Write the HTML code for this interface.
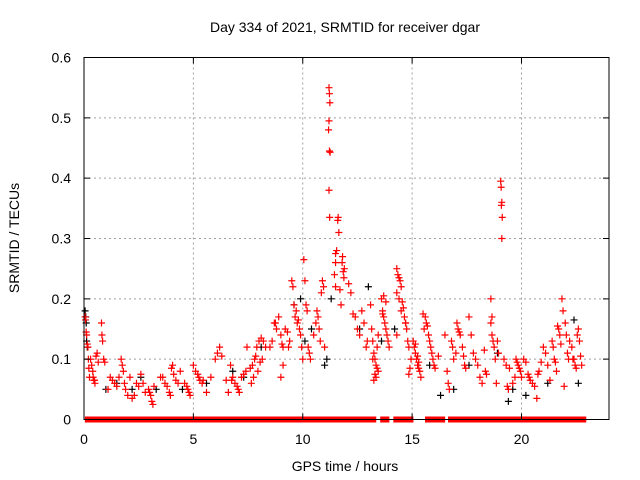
<!DOCTYPE html>
<html><head><meta charset="utf-8"><style>
html,body{margin:0;padding:0;background:#fff;}
svg{display:block;font-family:"Liberation Sans",sans-serif;}
</style></head><body>
<svg id="chart" width="640" height="480" viewBox="0 0 640 480">
<text x="345" y="32" font-size="14" text-anchor="middle">Day 334 of 2021, SRMTID for receiver dgar</text>
<text x="345" y="471" font-size="14" text-anchor="middle">GPS time / hours</text>
<text x="19" y="238" font-size="14" text-anchor="middle" transform="rotate(-90 19 238)">SRMTID / TECUs</text>
<g id="grid"></g>
<g id="black"></g>
<g id="red"></g>
<g id="axes"></g>
</svg>
<script>
const xTicks=[0,5,10,15,20];
const yTicks=[0,0.1,0.2,0.3,0.4,0.5,0.6];
const yTickLabels=["0","0.1","0.2","0.3","0.4","0.5","0.6"];
const redT=[0.05,0.07,0.1,0.12,0.15,0.18,0.2,0.22,0.25,0.3,0.35,0.4,0.42,0.45,0.48,0.5,0.55,0.6,0.65,0.8,0.82,0.85,0.9,0.95,
1.1,1.2,1.3,1.4,1.5,1.6,1.7,1.75,1.8,1.85,1.9,2.0,
2.1,2.2,2.3,2.4,2.5,2.6,2.7,2.8,2.95,3.0,3.05,3.1,3.15,3.2,
3.5,3.6,3.7,3.8,3.9,3.95,4.0,4.05,4.1,4.2,4.3,4.4,
4.6,4.7,4.75,4.8,4.85,5.0,5.1,5.2,5.25,5.3,5.4,5.45,
5.6,5.8,6.0,6.1,6.2,6.3,
6.5,6.6,6.7,6.75,6.8,6.9,7.0,7.05,7.1,7.2,7.3,7.4,7.45,
7.6,7.7,7.8,7.85,7.9,8.0,8.1,8.2,7.65,7.75,7.95,8.05,8.15,8.3,
8.5,8.6,8.7,8.75,8.8,8.9,9.0,9.05,9.1,9.2,9.3,9.4,9.0,9.1,9.35,
9.5,9.55,9.6,9.65,9.7,9.75,9.8,9.85,9.9,9.95,10.0,10.05,10.1,10.15,10.2,10.25,10.3,10.35,
10.5,10.6,10.65,10.7,10.75,10.8,10.85,10.9,10.95,11.0,
11.2,11.22,11.24,11.2,11.18,11.22,11.25,11.2,11.23,11.5,11.45,11.5,
11.6,11.62,11.65,11.5,11.55,11.8,11.85,11.9,11.82,11.88,11.7,11.75,
12.1,12.2,12.3,12.4,12.5,12.6,12.7,12.8,12.9,12.95,
13.1,13.15,13.2,13.25,13.3,13.35,13.4,13.45,13.3,13.35,13.25,13.2,13.4,13.45,
13.6,13.65,13.7,13.75,13.8,13.85,13.9,13.95,13.65,13.7,13.8,
14.3,14.35,14.4,14.45,14.5,14.3,14.4,14.55,14.6,14.65,14.7,14.75,14.8,14.85,14.3,14.5,14.7,14.9,14.95,14.85,
15.1,15.15,15.2,15.25,15.3,15.35,15.4,15.05,15.15,15.25,15.3,
15.6,15.65,15.7,15.75,15.8,15.85,15.9,15.95,16.0,16.05,15.5,15.55,16.2,
16.5,16.6,16.65,16.7,16.8,16.85,16.9,17.0,17.05,17.1,17.15,17.2,17.3,17.35,17.4,17.45,
17.6,17.7,17.8,17.9,18.0,18.1,18.2,18.3,18.35,18.4,
18.6,18.65,18.7,18.75,18.8,18.85,18.65,18.6,18.9,18.95,
19.05,19.07,19.1,19.08,19.12,19.1,
19.2,19.3,19.35,19.4,19.45,19.6,19.7,19.75,19.8,19.85,19.9,19.95,20.0,
20.1,20.2,20.3,20.35,20.4,20.5,20.6,20.7,20.75,20.8,20.9,21.0,21.1,21.2,21.3,
21.4,21.45,21.5,21.55,21.6,21.65,21.7,21.75,21.8,21.85,21.9,22.0,22.05,22.1,22.15,21.95,
22.2,22.3,22.4,22.45,22.5,22.55,22.6,22.65,22.7,22.35,22.75];
const redV=[0.17,0.165,0.145,0.14,0.125,0.12,0.1,0.085,0.07,0.1,0.09,0.08,0.07,0.065,0.065,0.06,0.105,0.11,0.095,0.16,0.14,0.13,0.1,0.095,
0.05,0.07,0.065,0.06,0.055,0.07,0.1,0.09,0.08,0.06,0.05,0.04,
0.07,0.035,0.04,0.06,0.055,0.075,0.06,0.045,0.05,0.045,0.04,0.03,0.025,0.055,
0.07,0.07,0.06,0.055,0.045,0.04,0.085,0.09,0.075,0.065,0.06,0.08,
0.06,0.055,0.05,0.045,0.04,0.09,0.08,0.075,0.07,0.065,0.06,0.065,
0.045,0.07,0.1,0.11,0.12,0.105,
0.065,0.045,0.09,0.065,0.07,0.06,0.055,0.05,0.045,0.07,0.075,0.08,0.12,
0.085,0.09,0.1,0.105,0.12,0.13,0.135,0.13,0.06,0.07,0.08,0.095,0.1,0.12,
0.12,0.13,0.16,0.16,0.15,0.17,0.14,0.125,0.12,0.15,0.145,0.13,0.07,0.09,0.12,
0.23,0.22,0.19,0.17,0.18,0.16,0.165,0.15,0.14,0.12,0.1,0.265,0.23,0.19,0.18,0.12,0.11,0.1,
0.14,0.16,0.18,0.17,0.15,0.13,0.21,0.23,0.22,0.12,
0.55,0.54,0.525,0.495,0.48,0.445,0.443,0.38,0.335,0.26,0.24,0.22,
0.33,0.335,0.31,0.275,0.28,0.26,0.245,0.25,0.27,0.235,0.215,0.19,
0.225,0.21,0.175,0.17,0.15,0.14,0.18,0.16,0.12,0.13,
0.19,0.15,0.13,0.11,0.1,0.09,0.085,0.08,0.075,0.07,0.065,0.1,0.12,0.14,
0.2,0.18,0.17,0.16,0.15,0.14,0.13,0.12,0.175,0.205,0.195,
0.25,0.24,0.235,0.23,0.22,0.21,0.2,0.195,0.185,0.17,0.16,0.15,0.13,0.12,0.14,0.18,0.16,0.085,0.1,0.075,
0.12,0.11,0.1,0.09,0.085,0.08,0.07,0.13,0.125,0.105,0.095,
0.17,0.16,0.155,0.14,0.13,0.12,0.11,0.1,0.09,0.085,0.175,0.15,0.105,
0.14,0.08,0.06,0.05,0.13,0.12,0.1,0.11,0.16,0.15,0.145,0.14,0.12,0.105,0.09,0.085,
0.17,0.14,0.11,0.1,0.09,0.07,0.06,0.115,0.08,0.075,
0.2,0.17,0.13,0.12,0.1,0.06,0.14,0.16,0.13,0.11,
0.395,0.385,0.36,0.355,0.335,0.3,
0.1,0.09,0.055,0.05,0.085,0.06,0.07,0.1,0.095,0.09,0.085,0.08,0.07,
0.1,0.095,0.075,0.07,0.065,0.06,0.055,0.035,0.075,0.08,0.095,0.12,0.11,0.09,0.065,
0.13,0.12,0.1,0.095,0.08,0.155,0.15,0.14,0.125,0.2,0.18,0.16,0.14,0.11,0.1,0.055,
0.13,0.12,0.1,0.09,0.085,0.14,0.15,0.13,0.105,0.1,0.09];
const blackT=[0.05,0.08,0.1,0.12,0.15,1.0,1.5,2.2,2.6,3.3,4.5,5.6,6.8,7.3,8.1,9.6,9.9,10.1,10.4,11.0,11.1,11.3,12.6,13.0,13.6,14.2,15.8,16.3,16.9,17.6,18.9,19.4,19.6,20.2,21.2,22.4,22.6];
const blackV=[0.18,0.17,0.16,0.13,0.12,0.05,0.06,0.05,0.07,0.05,0.05,0.06,0.08,0.07,0.12,0.19,0.2,0.13,0.15,0.09,0.1,0.2,0.15,0.22,0.13,0.15,0.09,0.04,0.05,0.09,0.11,0.03,0.05,0.04,0.06,0.165,0.06];
const zeroT=[0.2,0.3,0.55,0.65,0.75,0.85,0.95,1.05,1.15,1.25,1.35,1.45,1.55,1.65,1.7,1.9,2.0,2.1,2.2,2.3,2.4,2.5,2.6,2.7,2.8,2.9,3.05,3.15,3.25,3.35,3.45,3.65,3.75,3.85,3.95,4.05,4.15,4.25,4.35,4.45,4.55,4.65,4.75,4.85,4.95,5.05,5.15,5.25,5.5,5.6,5.7,5.8,5.9,6.0,6.1,6.2,6.3,6.45,6.55,6.65,6.75,6.85,6.95,7.05,7.15,7.25,7.35,7.45,7.55,7.65,7.75,7.9,8.0,8.1,8.2,8.3,8.4,8.5,8.6,8.7,8.8,8.9,9.0,9.1,9.2,9.35,9.45,9.55,9.65,9.75,9.85,9.95,10.05,10.15,10.35,10.45,10.55,10.65,10.75,10.9,11.0,11.1,11.2,11.3,11.4,11.5,11.6,11.7,11.8,11.9,12.0,12.1,12.2,12.3,12.4,12.5,12.6,12.7,12.8,12.9,13.0,13.1,13.2,13.7,13.8,14.3,14.4,14.5,14.8,14.9,15.75,15.85,16.05,16.15,16.25,16.35,16.8,16.9,17.0,17.1,17.2,17.3,17.4,17.5,17.6,17.7,17.8,17.9,18.0,18.1,18.2,18.3,18.4,18.5,18.6,18.7,18.8,18.9,19.0,19.1,19.2,19.3,19.4,19.5,19.6,19.7,19.8,19.9,20.0,20.1,20.2,20.3,20.4,20.6,20.7,20.8,20.9,21.0,21.1,21.2,21.3,21.4,21.5,21.6,21.7,21.8,21.9,22.0,22.1,22.2,22.3,22.4,22.5,22.6,22.7,22.8];
const X0=84,X1=609,Y0=419.5,Y1=57.5,XMAX=24,YMAX=0.6;
const xs=t=>X0+(X1-X0)*t/XMAX, ys=v=>Y0-(Y0-Y1)*v/YMAX;
const NS='http://www.w3.org/2000/svg';
function mk(tag,attrs,parent){const e=document.createElementNS(NS,tag);for(const k in attrs)e.setAttribute(k,attrs[k]);parent.appendChild(e);return e;}
const grid=document.getElementById('grid'),axes=document.getElementById('axes');
xTicks.forEach((t,i)=>{const x=xs(t);
 if(t>0){const g=mk('line',{x1:x,y1:Y0,x2:x,y2:Y1,stroke:'#a0a0a0','stroke-dasharray':'2,3','stroke-width':1},grid);
 
 }
 const tk=mk('path',{d:`M${x},${Y0}v-6M${x},${Y1}v6`,stroke:'#000'},axes);
 
 
 const l=mk('text',{x:x,y:444,'font-size':14,'text-anchor':'middle'},axes);l.textContent=String(t);
 
 
});
yTicks.forEach((v,i)=>{const y=ys(v);
 if(v>0&&v<YMAX){const g=mk('line',{x1:X0,y1:y,x2:X1,y2:y,stroke:'#a0a0a0','stroke-dasharray':'2,3','stroke-width':1},grid);
 
 }
 const tk=mk('path',{d:`M${X0},${y}h6M${X1},${y}h-6`,stroke:'#000'},axes);
 
 
 const l=mk('text',{x:71,y:y+5,'font-size':14,'text-anchor':'end'},axes);l.textContent=yTickLabels[i];
 
 
});
const b=mk('rect',{x:X0,y:Y1,width:X1-X0,height:Y0-Y1,fill:'none',stroke:'#000','stroke-width':1},axes);


function cross(t,v,color,parent,name){const x=xs(t),y=ys(v);
 const p=mk('path',{d:`M${x-3.5},${y}h7M${x},${y-3.5}v7`,stroke:color,'stroke-width':1.2},parent);
 
 }
const bg=document.getElementById('black'),rg=document.getElementById('red');
blackT.forEach((t,i)=>cross(t,blackV[i],'#000',bg,'black-point'));
zeroT.forEach(t=>{const x=xs(t),y=ys(0);
 const p=mk('rect',{x:x-3.5,y:y-3,width:7,height:6,fill:'#ff0000'},rg);
 
 });
redT.forEach((t,i)=>cross(t,redV[i],'#ff0000',rg,'red-point'));
</script>
</body></html>
